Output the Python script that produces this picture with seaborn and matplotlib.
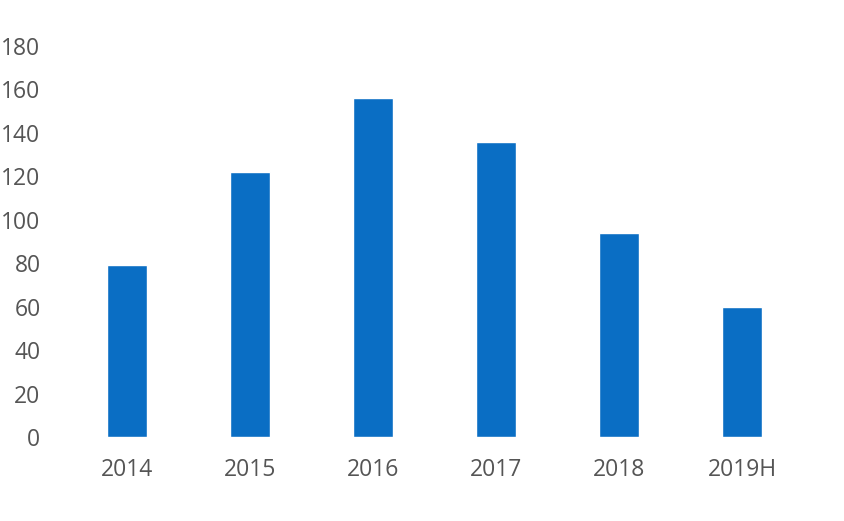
import matplotlib
matplotlib.use('Agg')
import matplotlib.pyplot as plt
import pandas as pd
import seaborn as sns

years = ['2014', '2015', '2016', '2017', '2018', '2019H']
values = [79, 122, 156, 136, 94, 60]
yticks = [0, 20, 40, 60, 80, 100, 120, 140, 160, 180]

sns.set_style('white')
plt.rcParams['font.family'] = ['Open Sans', 'DejaVu Sans']

df = pd.DataFrame({'year': years, 'value': values})

fig = plt.figure(figsize=(8.44, 5.21), dpi=100)
ax = fig.add_axes([65.5 / 844, (521 - 437) / 521, 738 / 844, (437 - 46) / 521])
sns.barplot(data=df, x='year', y='value', color='#0A6EC4', width=0.32,
            saturation=1, ax=ax)

ax.set_xlim(-0.5, 5.5)
ax.set_ylim(0, 180)
ax.set_yticks(yticks)
ax.set_xlabel('')
ax.set_ylabel('')
sns.despine(ax=ax, left=True, bottom=True)
ax.tick_params(axis='both', length=0, labelsize=16.5, colors='#555555')
ax.tick_params(axis='y', pad=18)
ax.tick_params(axis='x', pad=15)

fig.savefig('out.png', dpi=100)
